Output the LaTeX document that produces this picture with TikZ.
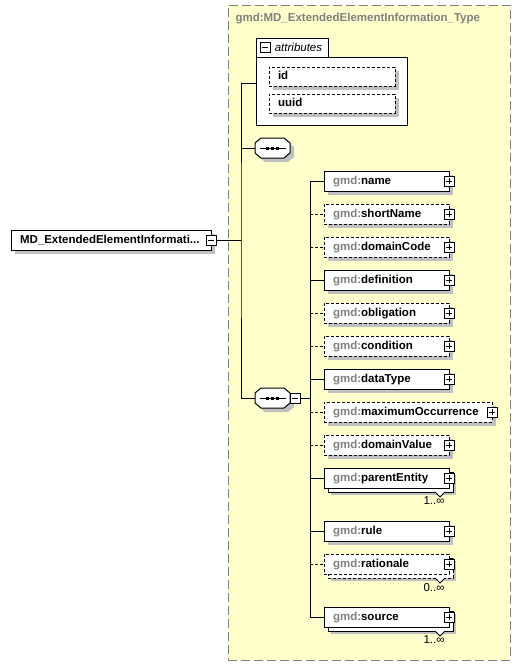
\documentclass[tikz,border=0pt]{standalone}
\usepackage{fontspec}
\setmainfont{Liberation Sans}
\usetikzlibrary{positioning, shadows}

\definecolor{typefill}{RGB}{255,255,204}
\definecolor{typeline}{RGB}{128,128,128}
\definecolor{shade}{RGB}{192,192,192}
\definecolor{prefix}{RGB}{128,128,128}

\newcommand\xfont{\fontsize{11.5}{13.5}\selectfont}
\newcommand\gmd{\textcolor{prefix}{gmd:}}
\newcommand\notch[2]{%
  \draw[fill=white] ([xshift=-4pt,yshift=-4pt]#1.south east) -- ++(-5,5) -- ++(-5,-5);
  \node (#1m) [mlabel] at ([xshift=-4pt,yshift=-8.5pt]#1.south east) {#2};}
\newcommand\seqsym[1]{%
  \draw[fill=white, general shadow={shadow xshift=4pt, shadow yshift=-4pt, fill=shade}]
    ([xshift=6pt]#1.north west) -- ([xshift=-6pt]#1.north east)
    -- ([yshift=-5pt]#1.north east) -- ([yshift=5pt]#1.south east)
    -- ([xshift=-6pt]#1.south east) -- ([xshift=6pt]#1.south west)
    -- ([yshift=5pt]#1.south west) -- ([yshift=-5pt]#1.north west) -- cycle;
  \draw ([xshift=-13pt]#1.center) -- ([xshift=13pt]#1.center);
  \foreach \dx in {-5,0,5}
    \fill ([xshift=\dx pt]#1.center) +(-1.5pt,-1.5pt) rectangle +(1.5pt,1.5pt);}

\tikzset{
  box/.style={draw, fill=white, outer sep=0pt, inner ysep=0pt, inner xsep=9pt,
    minimum height=20pt, text height=8.5pt, text depth=2.5pt, align=left,
    font=\xfont\bfseries,
    general shadow={shadow xshift=4pt, shadow yshift=-4pt, fill=shade}},
  el/.style={box, text width=107pt},
  elem/.style={el, append after command={node[plusbox] at (\tikzlastnode.east) {}}},
  multi/.style={general shadow={shadow xshift=7pt, shadow yshift=-7pt, fill=shade},
    general shadow={shadow xshift=4pt, shadow yshift=-4pt, fill=white, draw}},
  opt/.style={dash pattern=on 3pt off 2pt},
  sign/.style={draw, fill=white, solid, minimum size=10pt, inner sep=0pt, outer sep=0pt},
  minusbox/.style={sign, path picture={
      \draw ([xshift=-3pt]path picture bounding box.center) -- ([xshift=3pt]path picture bounding box.center);}},
  plusbox/.style={sign, path picture={
      \draw ([xshift=-3pt]path picture bounding box.center) -- ([xshift=3pt]path picture bounding box.center);
      \draw ([yshift=-3pt]path picture bounding box.center) -- ([yshift=3pt]path picture bounding box.center);}},
  seq/.style={minimum width=35pt, minimum height=20pt, inner sep=0pt, outer sep=0pt},
  mlabel/.style={anchor=north east, inner sep=0pt, font=\xfont},
}

\begin{document}
\begin{tikzpicture}[x=1pt, y=-1pt, line width=1pt, font=\xfont]
  \useasboundingbox (0,0) rectangle (529,665);

  % complex type frame
  \node (type) [draw=typeline, fill=typefill, dash pattern=on 9pt off 4pt, minimum width=282pt,
    minimum height=655pt, anchor=north west, outer sep=0pt] at (228,5) {};
  \node (title) [anchor=west, text=prefix, font=\xfont\bfseries, inner sep=0pt]
    at ([xshift=7pt, yshift=-14pt]type.north west) {gmd:MD\_ExtendedElementInformation\_Type};

  % attributes
  \node (attr) [draw, fill=white, minimum width=151pt, minimum height=68pt, outer sep=0pt,
    below right=52pt and 28pt of type.north west] {};
  \node (tab) [draw, fill=white, minimum width=72pt, minimum height=19pt, outer sep=0pt,
    above right=0pt and 0pt of attr.north west] {};
  \node (tabm) [minusbox, right=4pt of tab.west] {};
  \node (tabt) [right=1pt of tabm, font=\xfont\itshape] {attributes};
  \node (id) [el, opt, text width=108pt, minimum height=19pt, below right=10pt and 13pt of attr.north west] {id};
  \node (uuid) [el, opt, text width=108pt, minimum height=19pt, below=8pt of id] {uuid};

  % root element and sequences
  \node (md) [el, text width=182pt, anchor=west] at (11,240) {MD\_ExtendedElementInformati...};
  \node (mdm) [minusbox] at (md.east) {};
  \coordinate (root) at ([xshift=25pt]mdm.east);
  \node (seq1) [seq] at (272.5,148) {};
  \node (seq2) [seq] at (272.5,398) {};
  \seqsym{seq1}
  \seqsym{seq2}
  \node (seq2m) [minusbox, anchor=west] at (seq2.east) {};
  \coordinate (fork) at ([xshift=10pt]seq2m.east);

  % child elements
  \node (name) [elem, anchor=west] at (324,181) {\gmd name};
  \node (short) [elem, opt, below=13pt of name.south west, anchor=north west] {\gmd shortName};
  \node (dcode) [elem, opt, below=13pt of short.south west, anchor=north west] {\gmd domainCode};
  \node (defn) [elem, below=13pt of dcode.south west, anchor=north west] {\gmd definition};
  \node (oblig) [elem, opt, below=13pt of defn.south west, anchor=north west] {\gmd obligation};
  \node (cond) [elem, opt, below=13pt of oblig.south west, anchor=north west] {\gmd condition};
  \node (dtype) [elem, below=13pt of cond.south west, anchor=north west] {\gmd dataType};
  \node (maxocc) [elem, opt, text width=150pt, below=13pt of dtype.south west, anchor=north west] {\gmd maximumOccurrence};
  \node (dvalue) [elem, opt, below=13pt of maxocc.south west, anchor=north west] {\gmd domainValue};
  \node (parent) [elem, multi, below=13pt of dvalue.south west, anchor=north west] {\gmd parentEntity};
  \node (rule) [elem, below=33pt of parent.south west, anchor=north west] {\gmd rule};
  \node (ratio) [elem, opt, multi, below=13pt of rule.south west, anchor=north west] {\gmd rationale};
  \node (source) [elem, multi, below=33pt of ratio.south west, anchor=north west] {\gmd source};
  \notch{parent}{1..∞}
  \notch{ratio}{0..∞}
  \notch{source}{1..∞}

  % connectors
  \draw ([yshift=8pt]attr.west) -| (root) |- (seq2);
  \path (mdm) edge (root)
        (root |- seq1) edge (seq1)
        (seq2m) edge (fork);
  \draw (fork |- name) -- (fork |- source);
  \path (fork |- name) edge (name)
        (fork |- short) edge[opt] (short)
        (fork |- dcode) edge[opt] (dcode)
        (fork |- defn) edge (defn)
        (fork |- oblig) edge[opt] (oblig)
        (fork |- cond) edge[opt] (cond)
        (fork |- dtype) edge (dtype)
        (fork |- maxocc) edge[opt] (maxocc)
        (fork |- dvalue) edge[opt] (dvalue)
        (fork |- parent) edge (parent)
        (fork |- rule) edge (rule)
        (fork |- ratio) edge[opt] (ratio)
        (fork |- source) edge (source);
\end{tikzpicture}
\end{document}
